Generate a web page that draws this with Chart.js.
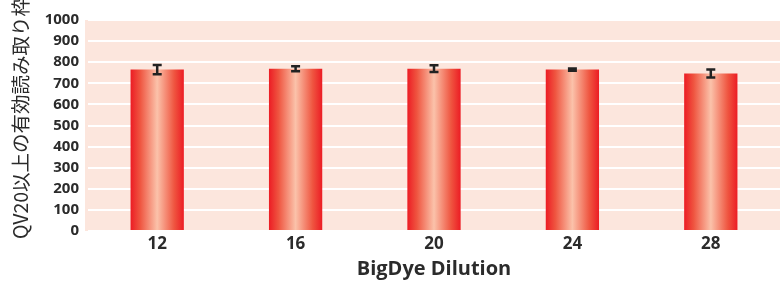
<!DOCTYPE html>
<html><head><meta charset="utf-8">
<script src="https://cdn.jsdelivr.net/npm/chart.js@4"></script>
<style>html,body{margin:0;padding:0;background:#fff}#w{width:780px;height:282px}</style>
</head><body><div id="w"><canvas id="c"></canvas></div>
<script>
const categories = ['12', '16', '20', '24', '28'];
const values = [765, 769, 769, 765, 746];
const errors = [22, 12, 16, 5, 19];
const yTicks = [0, 100, 200, 300, 400, 500, 600, 700, 800, 900, 1000];
const yTitle = 'QV20以上の有効読み取り枠';
const xTitle = 'BigDye Dilution';

const bgPlugin = {
  id: 'bg',
  beforeDraw(chart) {
    const a = chart.chartArea, ctx = chart.ctx;
    ctx.save(); ctx.fillStyle = '#fce6dd';
    ctx.fillRect(a.left - 3, a.top, a.right - a.left + 3, a.bottom - a.top);
    ctx.restore();
  },
  beforeDatasetsDraw(chart) {
    const ctx = chart.ctx;
    chart.getDatasetMeta(0).data.forEach(el => {
      const g = ctx.createLinearGradient(el.x - el.width / 2, 0, el.x + el.width / 2, 0);
      g.addColorStop(0, '#ec1c24');
      g.addColorStop(0.18, '#ef5540');
      g.addColorStop(0.5, '#fbc2aa');
      g.addColorStop(0.82, '#ef5540');
      g.addColorStop(1, '#ec1c24');
      el.options = Object.assign({}, el.options, { backgroundColor: g });
    });
  },
  afterDatasetsDraw(chart) {
    const ctx = chart.ctx, y = chart.scales.y;
    ctx.save(); ctx.strokeStyle = '#222'; ctx.lineWidth = 2.5;
    chart.getDatasetMeta(0).data.forEach((el, i) => {
      const t = y.getPixelForValue(values[i] + errors[i]);
      const b = y.getPixelForValue(values[i] - errors[i]);
      const x = el.x, hw = 4.5;
      ctx.beginPath();
      ctx.moveTo(x, t); ctx.lineTo(x, b);
      ctx.moveTo(x - hw, t); ctx.lineTo(x + hw, t);
      ctx.moveTo(x - hw, b); ctx.lineTo(x + hw, b);
      ctx.stroke();
    });
    ctx.restore();
  },
  afterDraw(chart) {
    const ctx = chart.ctx;
    ctx.save();
    ctx.translate(21, 118);
    ctx.rotate(-Math.PI / 2);
    ctx.fillStyle = '#2b2b2b';
    ctx.font = "19.5px 'Noto Sans CJK JP', 'Open Sans', sans-serif";
    ctx.textAlign = 'center'; ctx.textBaseline = 'middle';
    ctx.fillText(yTitle, 0, 0);
    ctx.restore();
  }
};

new Chart(document.getElementById('c'), {
  type: 'bar',
  data: { labels: categories, datasets: [{ data: values, backgroundColor: '#ee3a2e', borderWidth: 0,
    categoryPercentage: 1, barPercentage: 0.385 }] },
  options: {
    responsive: true, maintainAspectRatio: false, animation: false,
    layout: { padding: { top: 20, right: 0, bottom: 0, left: 0 } },
    plugins: { legend: { display: false }, tooltip: { enabled: false } },
    scales: {
      x: {
        grid: { display: false, drawTicks: false }, border: { display: false },
        ticks: { color: '#2b2b2b', font: { family: 'Open Sans', size: 17, weight: 'bold' }, padding: 3 },
        title: { display: true, text: xTitle, color: '#2b2b2b', font: { family: 'Open Sans', size: 20, weight: 'bold' }, padding: { top: 0, bottom: 1 } },
        afterFit(s) { s.height = 51; }
      },
      y: {
        min: 0, max: 1000,
        afterBuildTicks(s) { s.ticks = yTicks.map(v => ({ value: v })); },
        grid: { color: '#ffffff', lineWidth: 2, drawTicks: false }, border: { display: false },
        ticks: { color: '#2b2b2b', font: { family: 'Open Sans', size: 15, weight: 'bold' }, padding: 9,
          callback: v => String(v) },
        afterFit(s) { s.width = 88; }
      }
    }
  },
  plugins: [bgPlugin]
});
</script></body></html>
